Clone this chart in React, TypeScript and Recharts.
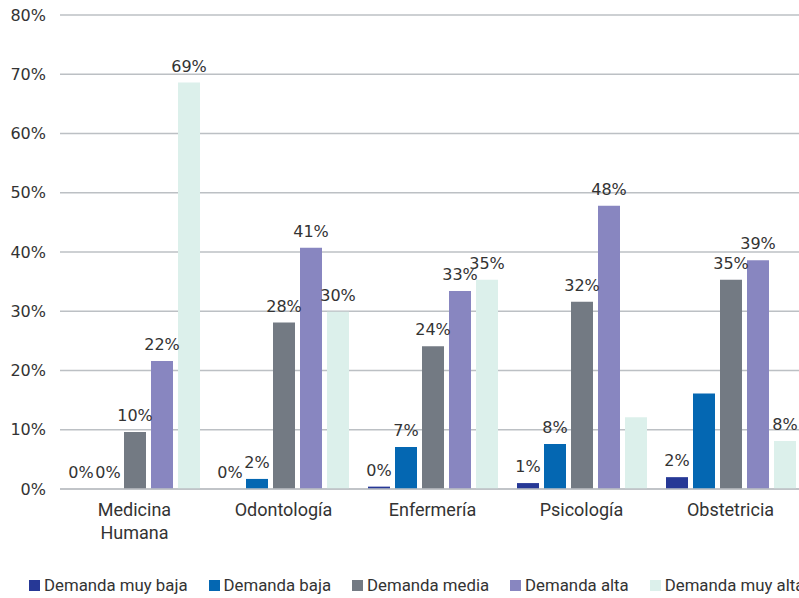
import React from "react";
import {
  BarChart,
  Bar,
  XAxis,
  YAxis,
  CartesianGrid,
  Legend,
  LabelList,
  Text,
} from "recharts";

const categories = ["Medicina Humana", "Odontología", "Enfermería", "Psicología", "Obstetricia"];
const muyBaja = [0, 0, 0.4, 1.0, 2.0];
const baja = [0, 1.7, 7.1, 7.6, 16.1];
const media = [9.6, 28.1, 24.1, 31.6, 35.3];
const alta = [21.6, 40.7, 33.4, 47.8, 38.6];
const muyAlta = [68.6, 29.9, 35.3, 12.1, 8.1];
const yTicks = [0, 10, 20, 30, 40, 50, 60, 70, 80];

const seriesNames = ["Demanda muy baja", "Demanda baja", "Demanda media", "Demanda alta", "Demanda muy alta"];
const seriesKeys = ["muyBaja", "baja", "media", "alta", "muyAlta"];
const seriesColors = ["#263896", "#0467b2", "#737a83", "#8886c0", "#dcf0eb"];
const seriesValues = [muyBaja, baja, media, alta, muyAlta];

// labels that are not shown in the reference: [category, seriesKey]
const hiddenLabels = [
  ["Psicología", "muyAlta"],
  ["Obstetricia", "baja"],
];

const data = categories.map((c, i) => {
  const row: Record<string, any> = { name: c };
  seriesKeys.forEach((k, s) => {
    row[k] = seriesValues[s][i];
  });
  return row;
});

const TEXT = "#333333";
const GRID = "#bcc0c4";

const XTick = (props: any) => {
  const { x, y, payload } = props;
  return (
    <Text
      x={x}
      y={y}
      width={110}
      textAnchor="middle"
      verticalAnchor="start"
      lineHeight={23}
      fill={TEXT}
      fontSize={18}
      fontFamily="Roboto"
      style={{ fontFamily: "Roboto", fontSize: 18 }}
    >
      {payload.value}
    </Text>
  );
};

const makeLabel = (key: string) => (props: any) => {
  const { x, y, width, value, index, payload } = props;
  const cat = payload && payload.name ? payload.name : categories[index];
  if (hiddenLabels.some(([c, k]) => c === cat && k === key)) return null;
  return (
    <text
      x={Number(x) + Number(width) / 2}
      y={Number(y) - 11}
      textAnchor="middle"
      fill={TEXT}
      fontSize={16}
      fontFamily="DejaVu Sans"
    >
      {Math.round(Number(value))}%
    </text>
  );
};

const LegendContent = () => (
  <div
    style={{
      display: "flex",
      alignItems: "center",
      height: 26,
      paddingLeft: 29,
      whiteSpace: "nowrap",
      fontFamily: "Roboto",
      fontSize: 16.8,
      color: TEXT,
    }}
  >
    {seriesNames.map((n, i) => (
      <div key={n} style={{ display: "flex", alignItems: "center", marginRight: 21 }}>
        <span
          style={{
            display: "inline-block",
            width: 11,
            height: 11,
            background: seriesColors[i],
            marginRight: 4,
          }}
        />
        <span>{n}</span>
      </div>
    ))}
  </div>
);

export default function App() {
  return (
    <div
      style={{
        position: "absolute",
        left: 0,
        top: 0,
        width: 799,
        height: 598,
        overflow: "hidden",
        background: "#fff",
      }}
    >
      <BarChart
        width={805}
        height={598}
        data={data}
        margin={{ top: 15, right: 0, bottom: 0, left: 0 }}
        barSize={22}
        barGap={5}
      >
        <CartesianGrid vertical={false} stroke={GRID} strokeWidth={1.3} />
        <XAxis
          dataKey="name"
          height={83}
          tickSize={0}
          tickMargin={14}
          axisLine={{ stroke: GRID, strokeWidth: 1.3 }}
          tickLine={false}
          tick={<XTick />}
          interval={0}
        />
        <YAxis
          width={60}
          domain={[0, 80]}
          ticks={yTicks}
          tickSize={0}
          tickMargin={14}
          axisLine={false}
          tickLine={false}
          tickFormatter={(v: number) => `${v}%`}
          tick={{ fill: TEXT, fontSize: 16, fontFamily: "DejaVu Sans" }}
        />
        <Legend
          verticalAlign="bottom"
          content={<LegendContent />}
          wrapperStyle={{ left: 0, width: 805, bottom: 0 }}
        />
        {seriesKeys.map((k, i) => (
          <Bar
            key={k}
            dataKey={k}
            name={seriesNames[i]}
            fill={seriesColors[i]}
            minPointSize={0.01}
            isAnimationActive={false}
          >
            <LabelList dataKey={k} content={makeLabel(k)} />
          </Bar>
        ))}
      </BarChart>
    </div>
  );
}
